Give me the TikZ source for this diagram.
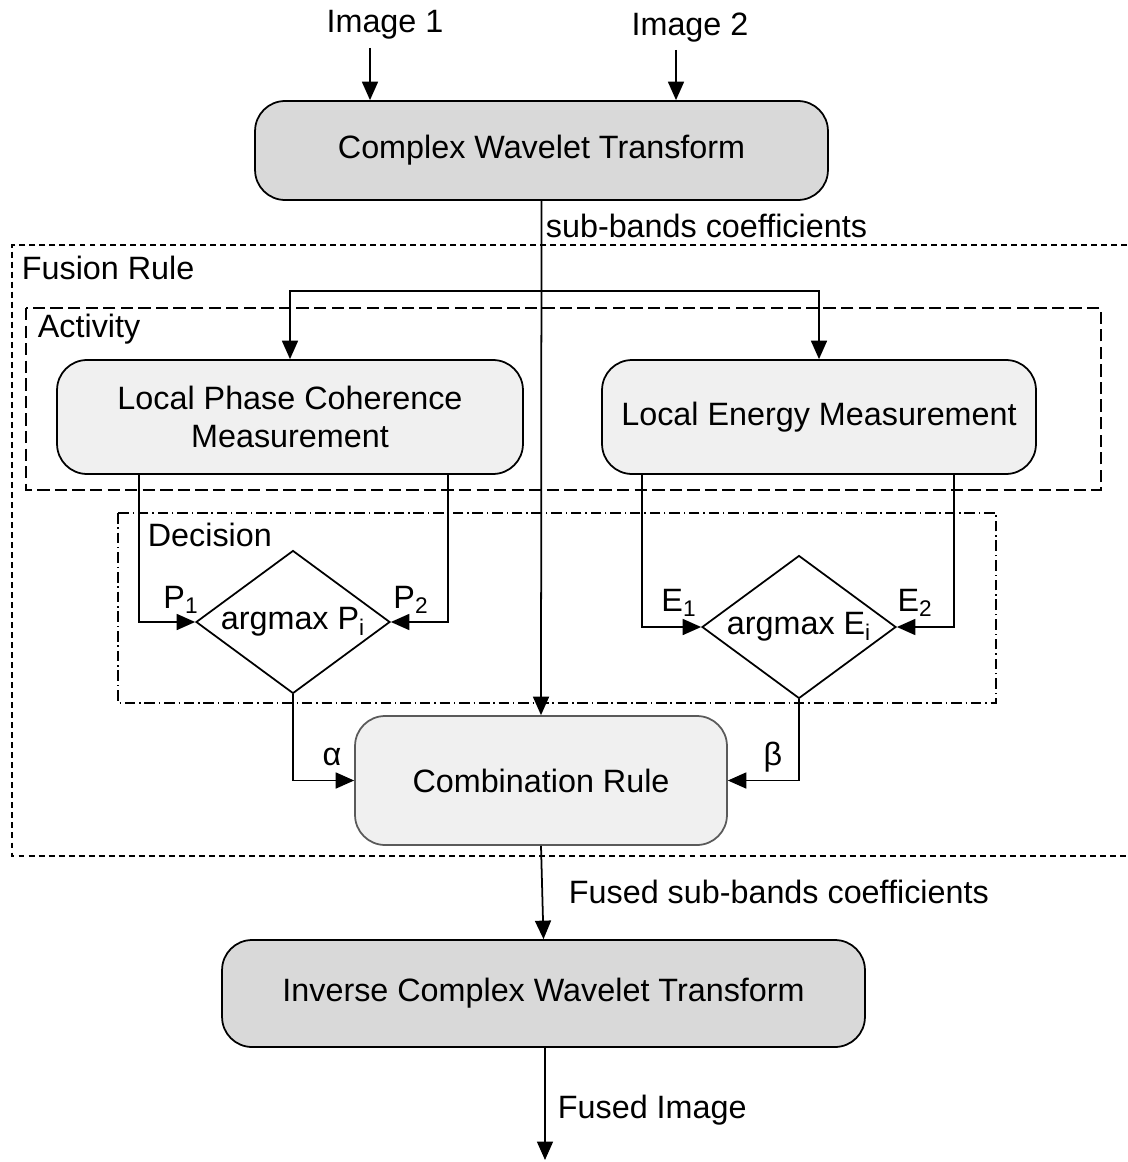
\documentclass[tikz,border=0pt]{standalone}
\usepackage{fontspec}
\setmainfont{Liberation Sans}
\usepackage{tikz}
\usetikzlibrary{arrows.meta,shapes.geometric}
\definecolor{boxdark}{RGB}{217,217,217}
\definecolor{boxlight}{RGB}{240,240,240}
\definecolor{edgegray}{RGB}{90,90,90}

\begin{document}
\begin{tikzpicture}[x=0.02cm,y=-0.02cm,line width=1pt,
  font=\fontsize{18.4}{22}\selectfont,
  arrow/.style={-{Triangle[length=0.37cm,width=0.32cm]}},
  transbox/.style={draw,rounded corners=0.6cm,fill=boxdark,align=center},
  measbox/.style={draw,rounded corners=0.6cm,fill=boxlight,align=center},
  argbox/.style={draw,diamond,aspect=1.36,inner sep=0pt,minimum width=3.88cm,minimum height=2.86cm},
  lbl/.style={inner sep=0pt}]
\useasboundingbox (0,0) rectangle (1127,1162);
% groups: fusion rule, activity, decision
\draw[dash pattern=on 3.4pt off 2.3pt] (1127,245) -- (12,245) -- (12,856) -- (1127,856);
\draw[dash pattern=on 7pt off 3pt] (26,308) rectangle (1101,490);
\draw[dash pattern=on 6pt off 2.2pt on 0.8pt off 2.2pt] (118,513) rectangle (996,703);
\node[lbl,anchor=west] (fusion) at (21,268) {Fusion Rule};
\node[lbl,anchor=west] (activity) at (37,329) {Activity};
\node[lbl,anchor=west] (decision) at (147,535) {Decision};

% boxes
\node[transbox,minimum width=11.46cm,minimum height=1.98cm] (cwt) at (541.5,150.5) {Complex Wavelet Transform};
\node[measbox,minimum width=9.32cm,minimum height=2.28cm] (lpc) at (290,417) {Local Phase Coherence\\Measurement};
\node[measbox,minimum width=8.68cm,minimum height=2.28cm] (lem) at (819,417) {Local Energy Measurement};
\node[argbox] (dp) at (293,622) {argmax P\textsubscript{i}};
\node[argbox] (de) at (799,627) {argmax E\textsubscript{i}};
\node[measbox,draw=edgegray,minimum width=7.44cm,minimum height=2.58cm] (comb) at (541,780.5) {Combination Rule};
\node[transbox,minimum width=12.86cm,minimum height=2.14cm] (icwt) at (543.5,993.5) {Inverse Complex Wavelet Transform};

% inputs and outputs
\node[lbl] (img1) at (385,25) {Image 1};
\node[lbl] (img2) at (690,28) {Image 2};
\coordinate (in1) at (370,48);
\coordinate (in2) at (676,50);
\coordinate (out) at (545,1160);
\coordinate (split) at (541,291);
\draw[arrow] (in1) -- (in1 |- cwt.north);
\draw[arrow] (in2) -- (in2 |- cwt.north);
\draw[arrow] (cwt.south) -- (comb.north);
\draw[arrow] (split) -| (lpc.north);
\draw[arrow] (split) -| (lem.north);
\draw[arrow] ([xshift=-3.02cm]lpc.south) |- (dp.west);
\draw[arrow] ([xshift=3.16cm]lpc.south) |- (dp.east);
\draw[arrow] ([xshift=-3.54cm]lem.south) |- (de.west);
\draw[arrow] ([xshift=2.7cm]lem.south) |- (de.east);
\draw[arrow] (dp.south) |- (comb.west);
\draw[arrow] (de.south) |- (comb.east);
\draw[arrow] (comb.south) -- (icwt.north);
\draw[arrow] (icwt.south -| out) -- (out);

% connector labels
\node[lbl,anchor=west] (subbands) at (545,226) {sub-bands coefficients};
\node[lbl] (p1) at (181,600) {P\textsubscript{1}};
\node[lbl] (p2) at (411,600) {P\textsubscript{2}};
\node[lbl] (e1) at (679,603) {E\textsubscript{1}};
\node[lbl] (e2) at (915,603) {E\textsubscript{2}};
\node[lbl] (alpha) at (332,757) {α};
\node[lbl] (beta) at (773,757) {β};
\node[lbl,anchor=west] (fusedsb) at (568,892) {Fused sub-bands coefficients};
\node[lbl,anchor=west] (fusedimg) at (557,1110) {Fused Image};
\end{tikzpicture}
\end{document}
